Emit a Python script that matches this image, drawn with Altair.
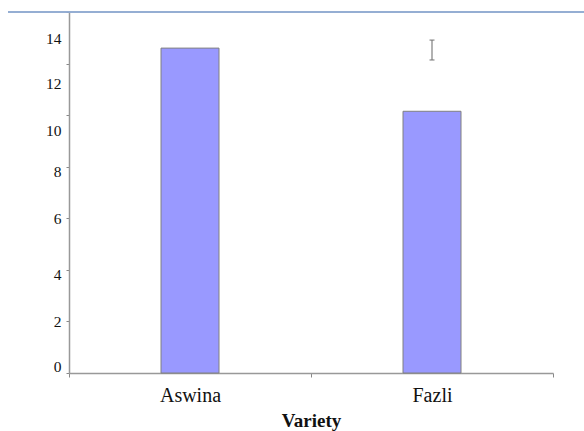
import altair as alt
import pandas as pd

# Mean value per variety, with the error interval shown for Fazli
varieties = ["Aswina", "Fazli"]
means = [12.6, 10.15]
err_low = [None, 12.14]
err_high = [None, 12.91]

bars_df = pd.DataFrame({"Variety": varieties, "Mean": means})
err_df = pd.DataFrame({"Variety": [v for v, l in zip(varieties, err_low) if l is not None],
                       "lo": [l for l in err_low if l is not None],
                       "hi": [h for h in err_high if h is not None]})

serif = "Liberation Serif"

x_enc = alt.X(
    "Variety:N",
    sort=varieties,
    scale=alt.Scale(paddingInner=0, paddingOuter=0),
    axis=alt.Axis(
        title="Variety", titleFont=serif, titleFontSize=19, titleFontWeight="bold",
        titleColor="#111", titlePadding=6,
        labelFont=serif, labelFontSize=20, labelColor="#111", labelAngle=0,
        labelPadding=8, tickBand="extent", tickSize=4, tickColor="#888",
        domainColor="#999", domainWidth=1.5, grid=False,
    ),
)

y_scale = alt.Scale(domain=[0, 14], nice=False)
y_axis = alt.Axis(
    title=None, values=[0, 2, 4, 6, 8, 10, 12, 14], labelFont=serif, labelFontSize=15.5,
    labelColor="#111", labelPadding=5, tickSize=3, tickColor="#888",
    domainColor="#999", domainWidth=1.5, grid=False,
    labelOffset={"expr": "datum.value==14?26:datum.value==12?20:datum.value==10?15:"
                         "datum.value==8?5:datum.value==4?5:datum.value==0?-7:0"},
)

bars = alt.Chart(bars_df).mark_bar(
    size=58, color="#9999FF", stroke="#808080", strokeWidth=1
).encode(
    x=x_enc,
    y=alt.Y("Mean:Q", scale=y_scale, axis=y_axis),
)

stem = alt.Chart(err_df).mark_rule(color="#999", strokeWidth=1.5).encode(
    x=alt.X("Variety:N", sort=varieties),
    y=alt.Y("lo:Q", scale=y_scale),
    y2="hi:Q",
)
cap_lo = alt.Chart(err_df).mark_tick(color="#777", size=5, thickness=1.5, orient="horizontal").encode(
    x=alt.X("Variety:N", sort=varieties), y=alt.Y("lo:Q", scale=y_scale)
)
cap_hi = alt.Chart(err_df).mark_tick(color="#777", size=5, thickness=1.5, orient="horizontal").encode(
    x=alt.X("Variety:N", sort=varieties), y=alt.Y("hi:Q", scale=y_scale)
)

top_line = alt.Chart(bars_df).mark_rule(color="#8EA9D0", strokeWidth=1.5).encode(
    x=alt.value(-61), x2=alt.value(515), y=alt.value(0)
)

chart = alt.layer(bars, stem, cap_lo, cap_hi, top_line).properties(
    width=484, height=361,
    background="white",
    autosize=alt.AutoSizeParams(type="none"),
    padding={"left": 69, "top": 12, "right": 31, "bottom": 58},
).configure_view(stroke=None)

chart.save("out.html", embed_options={"renderer": "svg", "actions": False})
